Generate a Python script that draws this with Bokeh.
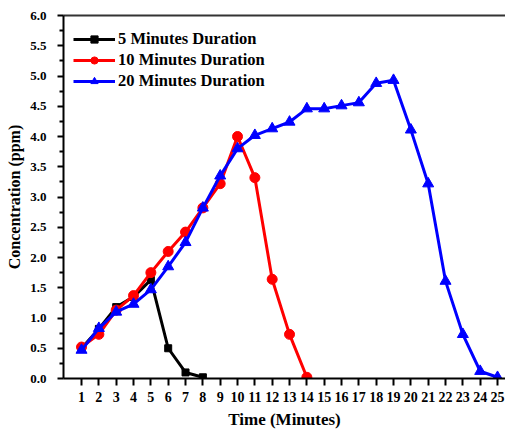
from bokeh.plotting import figure
from bokeh.models import Range1d, FixedTicker, Legend, LegendItem, CustomJSTickFormatter, LinearAxis
from bokeh.embed import file_html
from bokeh.resources import INLINE

time_5 = [1, 2, 3, 4, 5, 6, 7, 8]
conc_5 = [0.50, 0.82, 1.18, 1.35, 1.63, 0.50, 0.10, 0.02]

time_10 = list(range(1, 15))
conc_10 = [0.52, 0.73, 1.13, 1.37, 1.75, 2.10, 2.42, 2.82, 3.22, 4.00, 3.32, 1.64, 0.73, 0.02]

time_20 = list(range(1, 26))
conc_20 = [0.47, 0.83, 1.10, 1.23, 1.47, 1.85, 2.25, 2.82, 3.35, 3.80, 4.02, 4.13, 4.24,
           4.46, 4.46, 4.51, 4.56, 4.88, 4.93, 4.11, 3.22, 1.61, 0.73, 0.12, 0.02]

x_ticks = list(range(1, 26))
y_ticks = [0.0, 0.5, 1.0, 1.5, 2.0, 2.5, 3.0, 3.5, 4.0, 4.5, 5.0, 5.5, 6.0]
labels = ["5 Minutes Duration", "10 Minutes Duration", "20 Minutes Duration"]

FONT = "Liberation Serif"

p = figure(frame_width=442, frame_height=363, output_backend="svg", toolbar_location=None,
           x_range=Range1d(-0.04, 25.46), y_range=Range1d(0, 6.0),
           min_border_left=63, min_border_right=0, min_border_top=15, min_border_bottom=54)

p.xgrid.visible = False
p.ygrid.visible = False
p.outline_line_color = None

xa = p.below[0]
ya = p.left[0]

# top border line only (no right border visible in the original)
top_axis = LinearAxis(ticker=FixedTicker(ticks=[]), axis_line_color="#333333", axis_line_width=2,
                      major_tick_line_color=None, minor_tick_line_color=None)
p.add_layout(top_axis, "above")

r5l = p.line(time_5, conc_5, line_color="black", line_width=3)
r5m = p.scatter(time_5, conc_5, marker="square", size=7, color="black")
r10l = p.line(time_10, conc_10, line_color="#ff0000", line_width=3)
r10m = p.scatter(time_10, conc_10, marker="circle", size=10, color="#ff0000")
r20l = p.line(time_20, conc_20, line_color="#0000ff", line_width=3)
r20m = p.scatter(time_20, conc_20, marker="triangle", size=11, color="#0000ff")

for ax in (xa, ya):
    ax.axis_line_width = 2
    ax.axis_line_color = "black"
    ax.major_tick_line_width = 2
    ax.minor_tick_line_width = 2
    ax.major_tick_in = 0
    ax.minor_tick_in = 0
    ax.major_label_text_font = FONT
    ax.major_label_text_font_style = "bold"
    ax.major_label_text_color = "black"
    ax.axis_label_text_font = FONT
    ax.axis_label_text_font_style = "bold"
    ax.axis_label_text_color = "black"

xa.ticker = FixedTicker(ticks=x_ticks)
xa.major_tick_out = 7
xa.minor_tick_out = 0
xa.major_label_standoff = 6
xa.major_label_text_font_size = "14px"
xa.axis_label = "Time (Minutes)"
xa.axis_label_text_font_size = "17px"
xa.axis_label_standoff = 5

ya.ticker = FixedTicker(ticks=y_ticks,
                        minor_ticks=[0.25 + 0.5 * i for i in range(12)])
ya.major_tick_out = 6
ya.minor_tick_out = 4
ya.major_label_standoff = 11
ya.major_label_text_font_size = "13px"
ya.axis_label = "Concentration (ppm)"
ya.axis_label_text_font_size = "16px"
ya.axis_label_standoff = 4
ya.formatter = CustomJSTickFormatter(code="return tick.toFixed(1);")

legend = Legend(items=[
    LegendItem(label=labels[0], renderers=[r5l, r5m]),
    LegendItem(label=labels[1], renderers=[r10l, r10m]),
    LegendItem(label=labels[2], renderers=[r20l, r20m]),
], location=(10, 287))
legend.border_line_color = None
legend.background_fill_alpha = 0
legend.label_text_font = FONT
legend.label_text_font_style = "bold"
legend.label_text_font_size = "16.5px"
legend.label_text_color = "black"
legend.glyph_width = 42
legend.glyph_height = 18
legend.label_height = 18
legend.spacing = 1
legend.padding = 4
legend.margin = 0
legend.label_standoff = 3
p.add_layout(legend, "center")

open("out.html", "w").write(file_html(p, INLINE))
